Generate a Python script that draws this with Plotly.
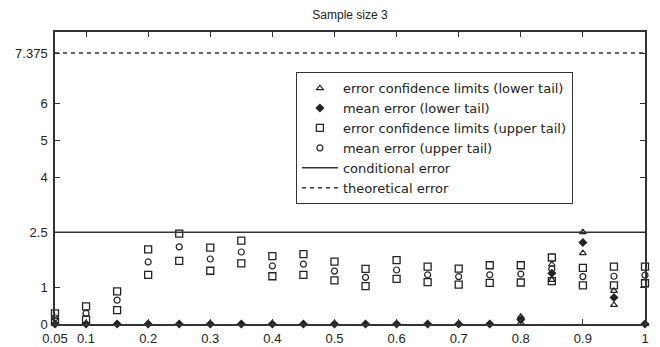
import plotly.graph_objects as go

x_vals = [0.05, 0.10, 0.15, 0.20, 0.25, 0.30, 0.35, 0.40, 0.45, 0.50,
          0.55, 0.60, 0.65, 0.70, 0.75, 0.80, 0.85, 0.90, 0.95, 1.00]

upper_conf_hi = [0.29, 0.48, 0.89, 2.03, 2.46, 2.08, 2.27, 1.85, 1.90, 1.70,
                 1.50, 1.74, 1.56, 1.51, 1.60, 1.60, 1.81, 1.53, 1.56, 1.56]
upper_conf_lo = [0.06, 0.12, 0.38, 1.34, 1.72, 1.45, 1.65, 1.30, 1.34, 1.19,
                 1.03, 1.23, 1.14, 1.07, 1.12, 1.13, 1.17, 1.05, 1.05, 1.11]
upper_mean = [0.17, 0.29, 0.65, 1.69, 2.10, 1.77, 1.96, 1.58, 1.63, 1.44,
              1.27, 1.47, 1.34, 1.29, 1.34, 1.36, 1.50, 1.29, 1.30, 1.33]

lower_conf_hi = [0, 0, 0, 0, 0, 0, 0, 0, 0, 0,
                 0, 0, 0, 0, 0, 0.20, 1.62, 2.50, 0.90, 0]
lower_conf_lo = [0, 0, 0, 0, 0, 0, 0, 0, 0, 0,
                 0, 0, 0, 0, 0, 0.03, 1.20, 1.93, 0.52, 0]
lower_mean = [0, 0, 0, 0, 0, 0, 0, 0, 0, 0,
              0, 0, 0, 0, 0, 0.12, 1.38, 2.22, 0.72, 0]

conditional_error = 2.5
theoretical_error = 7.375
x_range = [0.05, 1.0]

y_tickvals = [0, 1, 2.5, 4, 5, 6, 7.375]
y_ticktext = ["0", "1", "2.5", "4", "5", "6", "7.375"]
x_tickvals = [0.05, 0.1, 0.2, 0.3, 0.4, 0.5, 0.6, 0.7, 0.8, 0.9, 1.0]
x_ticktext = ["0.05", "0.1", "0.2", "0.3", "0.4", "0.5", "0.6", "0.7", "0.8", "0.9", "1"]

ink = "#222222"
FONT = "Liberation Sans, Arial, sans-serif"
fig = go.Figure()

fig.add_trace(go.Scatter(
    x=x_vals + x_vals, y=lower_conf_hi + lower_conf_lo, mode="markers", cliponaxis=False,
    name="error confidence limits (lower tail)",
    marker=dict(symbol="triangle-up-open", size=6, color=ink, line=dict(width=1.2, color=ink))))
fig.add_trace(go.Scatter(
    x=x_vals, y=lower_mean, mode="markers", name="mean error (lower tail)", cliponaxis=False,
    marker=dict(symbol="diamond", size=7, color=ink, line=dict(width=0))))
fig.add_trace(go.Scatter(
    x=x_vals + x_vals, y=upper_conf_hi + upper_conf_lo, mode="markers", cliponaxis=False,
    name="error confidence limits (upper tail)",
    marker=dict(symbol="square-open", size=7, color=ink, line=dict(width=1.3, color=ink))))
fig.add_trace(go.Scatter(
    x=x_vals, y=upper_mean, mode="markers", name="mean error (upper tail)", cliponaxis=False,
    marker=dict(symbol="circle-open", size=6, color=ink, line=dict(width=1.2, color=ink))))
fig.add_trace(go.Scatter(
    x=x_range, y=[conditional_error] * 2, mode="lines", name="conditional error",
    line=dict(color="#333333", width=1.5)))
fig.add_trace(go.Scatter(
    x=x_range, y=[theoretical_error] * 2, mode="lines", name="theoretical error",
    line=dict(color="#333333", width=1.5, dash="4px,4px")))

axis_common = dict(showline=True, linecolor="#333333", linewidth=1.5, mirror="ticks",
                   ticks="inside", ticklen=5, tickwidth=1.2, tickcolor="#333333",
                   showgrid=False, zeroline=False, automargin=False,
                   tickfont=dict(family=FONT, size=13, color=ink))

fig.update_xaxes(range=x_range, tickmode="array", tickvals=x_tickvals, ticktext=x_ticktext,
                 ticklabelstandoff=2, **axis_common)
fig.update_yaxes(range=[0, 7.95], tickmode="array", tickvals=y_tickvals, ticktext=y_ticktext,
                 ticklabelstandoff=3, **axis_common)

# page body adds an 8px offset, so margins are reduced accordingly
fig.update_layout(
    width=660, height=347,
    margin=dict(l=47, r=23, t=24, b=31),
    paper_bgcolor="white", plot_bgcolor="white",
    title=dict(text="Sample size 3", x=(47 + 637) / 2 / 660, xanchor="center",
               y=1 - 2.5 / 347, yanchor="top", pad=dict(t=0, b=0),
               font=dict(family=FONT, size=12, color=ink)),
    font=dict(family=FONT, size=12, color=ink),
    showlegend=True,
    legend=dict(x=0.408, y=0.863, xanchor="left", yanchor="top",
                bordercolor="#333333", borderwidth=1.2, bgcolor="white",
                font=dict(family="DejaVu Sans, sans-serif", size=13, color=ink),
                tracegroupgap=0, itemwidth=36),
)

fig.write_html("out.html")
